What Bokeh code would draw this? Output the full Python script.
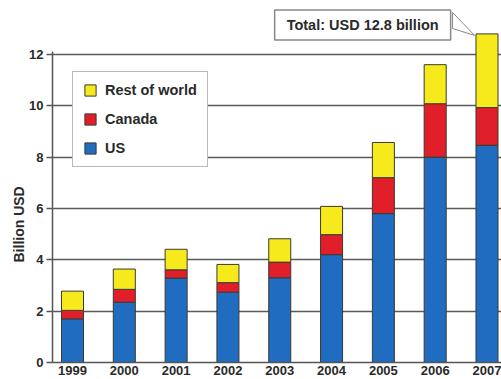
from bokeh.plotting import figure
from bokeh.models import (Range1d, FixedTicker, Legend, LegendItem, Label, Title)
from bokeh.embed import file_html
from bokeh.resources import INLINE

years = [1999, 2000, 2001, 2002, 2003, 2004, 2005, 2006, 2007]
us = [1.70, 2.35, 3.29, 2.74, 3.30, 4.20, 5.80, 8.00, 8.46]
canada = [0.33, 0.50, 0.32, 0.37, 0.61, 0.78, 1.40, 2.08, 1.47]
rest = [0.75, 0.79, 0.80, 0.71, 0.91, 1.10, 1.37, 1.52, 2.87]
y_ticks = [0, 2, 4, 6, 8, 10, 12]
series = ["US", "Canada", "Rest of world"]
colors = ["#1f6cc0", "#e01f2b", "#f7ea1c"]
total_text = "Total: USD 12.8 billion"

FONT = "Liberation Sans"
TXT = "#2a2a2a"

p = figure(width=501, height=379, output_backend="svg", toolbar_location=None,
           x_range=Range1d(1998.614, 2007.28), y_range=Range1d(0, 14.10),
           min_border_left=52, min_border_right=0, min_border_top=0,
           min_border_bottom=17)
p.outline_line_color = None
p.background_fill_color = "white"

src = dict(year=years, US=us, Canada=canada)
src["Rest of world"] = rest
rs = p.vbar_stack(series, x="year", width=0.425, source=src, color=colors,
                  line_color="#3b3a30", line_width=1)

# axes
p.yaxis.ticker = FixedTicker(ticks=y_ticks)
p.yaxis.bounds = (0, 12.1)
p.xaxis.ticker = FixedTicker(ticks=years)
for ax in (p.xaxis[0], p.yaxis[0]):
    ax.major_label_text_font = FONT
    ax.major_label_text_font_style = "bold"
    ax.major_label_text_font_size = "13px"
    ax.major_label_text_color = TXT
    ax.axis_line_color = "#555555"
    ax.axis_line_width = 1.5
    ax.minor_tick_line_color = None
p.yaxis.major_tick_out = 6
p.yaxis.major_tick_in = 0
p.yaxis.major_tick_line_color = "#555555"
p.yaxis.major_tick_line_width = 1.5
p.yaxis.major_label_standoff = 3
p.xaxis.major_tick_line_color = None
p.xaxis.major_tick_out = 0
p.xaxis.major_tick_in = 0
p.xaxis.major_label_standoff = 3

p.xgrid.grid_line_color = None
p.ygrid.grid_line_color = "#5a5a5a"
p.ygrid.grid_line_width = 1.5
p.ygrid.ticker = FixedTicker(ticks=y_ticks)

# y axis title
p.add_layout(Title(text="Billion USD", align="left", offset=100,
                   text_font=FONT, text_font_style="bold", text_font_size="14px",
                   text_color=TXT, standoff=0), "left")

# legend
legend = Legend(items=[LegendItem(label=s, renderers=[r]) for s, r in zip(series[::-1], rs[::-1])],
                location=(20, 195))
legend.label_text_font = FONT
legend.label_text_font_style = "bold"
legend.label_text_font_size = "14.5px"
legend.label_text_color = TXT
legend.glyph_width = 14
legend.glyph_height = 14
legend.label_height = 16
legend.label_standoff = 8
legend.spacing = 13
legend.padding = 10
legend.margin = 0
legend.border_line_color = "#777777"
legend.border_line_width = 1.5
legend.background_fill_color = "white"
legend.background_fill_alpha = 1
p.add_layout(legend)

# callout
p.patch([2006.336, 2006.76, 2006.336], [13.636, 12.74, 13.01],
        fill_color="white", line_color="#888888", line_width=1)
p.add_layout(Label(x=2004.60, y=13.15, text=total_text, text_align="center",
                   text_baseline="middle", text_font=FONT, text_font_style="bold",
                   text_font_size="14.5px", text_color=TXT,
                   background_fill_color="white", border_line_color="#888888",
                   border_line_width=1.5, padding=(12, 7)))

open("out.html", "w").write(file_html(p, INLINE))
